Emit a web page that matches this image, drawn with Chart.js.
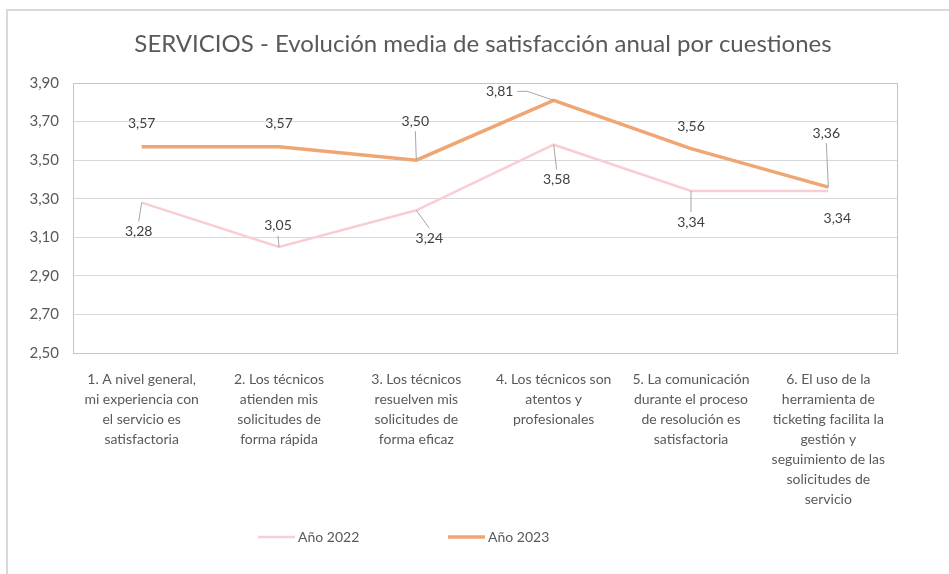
<!DOCTYPE html>
<html lang="es">
<head>
<meta charset="UTF-8">
<title>SERVICIOS - Evolución media de satisfacción anual por cuestiones</title>
<script src="https://cdn.jsdelivr.net/npm/chart.js"></script>
<style>
  html, body { margin: 0; padding: 0; background: #fff; }
  #wrap { position: relative; width: 949px; height: 574px; }
</style>
</head>
<body>
<div id="wrap"><canvas id="grafico"></canvas></div>
<script>
// datos
const preguntas = [
  ['1. A nivel general,', 'mi experiencia con', 'el servicio es', 'satisfactoria'],
  ['2. Los técnicos', 'atienden mis', 'solicitudes de', 'forma rápida'],
  ['3. Los técnicos', 'resuelven mis', 'solicitudes de', 'forma eficaz'],
  ['4. Los técnicos son', 'atentos y', 'profesionales'],
  ['5. La comunicación', 'durante el proceso', 'de resolución es', 'satisfactoria'],
  ['6. El uso de la', 'herramienta de', 'ticketing facilita la', 'gestión y', 'seguimiento de las', 'solicitudes de', 'servicio']
];
const anio2022 = [3.28, 3.05, 3.24, 3.58, 3.34, 3.34];
const anio2023 = [3.57, 3.57, 3.50, 3.81, 3.56, 3.36];
const titulo = 'SERVICIOS - Evolución media de satisfacción anual por cuestiones';

// posición de las etiquetas respecto al punto (como en Excel)
const etiq2022 = [[-3, 29, true], [-1, -21, true], [13, 28, true], [3, 35, true], [0, 31, true], [9, 27, false]];
const etiq2023 = [[0, -23, false], [0, -23, false], [-1, -39, true], [-54, -9, true], [0, -22, false], [-2, -54, true]];

const FUENTE = 'Lato, "Open Sans", sans-serif';
const GRIS = '#595959';
const fmt = v => v.toFixed(2).replace('.', ',');

const extras = {
  id: 'extras',
  beforeDraw(chart) {
    const c = chart.ctx;
    c.save();
    c.fillStyle = '#fff';
    c.fillRect(0, 0, chart.width, chart.height);
    c.strokeStyle = '#d9d9d9';
    c.lineWidth = 2;
    c.beginPath();
    c.moveTo(7, chart.height);
    c.lineTo(7, 10);
    c.lineTo(chart.width, 10);
    c.stroke();
    c.restore();
  },
  beforeDatasetsDraw(chart) {
    const a = chart.chartArea, c = chart.ctx;
    c.save();
    c.strokeStyle = '#b4c8e1';
    c.lineWidth = 1;
    c.strokeRect(Math.round(a.left) + 0.5, Math.round(a.top) + 0.5, Math.round(a.right - a.left), Math.round(a.bottom - a.top));
    c.restore();
  },
  afterDraw(chart) {
    const c = chart.ctx;
    c.save();
    // título
    c.fillStyle = GRIS;
    c.font = '24px ' + FUENTE;
    c.textAlign = 'center';
    c.textBaseline = 'middle';
    c.fillText(titulo, 483, 44);

    // etiquetas de datos
    c.font = '14px ' + FUENTE;
    const offs = [etiq2022, etiq2023];
    chart.data.datasets.forEach((ds, i) => {
      const meta = chart.getDatasetMeta(i);
      meta.data.forEach((pt, j) => {
        const [dx, dy, guia] = offs[i][j];
        const tx = pt.x + dx, ty = pt.y + dy;
        const txt = fmt(ds.data[j]);
        const w = c.measureText(txt).width;
        if (guia) {
          c.strokeStyle = '#a6a6a6';
          c.lineWidth = 1;
          c.beginPath();
          if (Math.abs(dx) > Math.abs(dy)) {
            const sx = dx < 0 ? tx + w / 2 + 4 : tx - w / 2 - 4;
            c.moveTo(sx, ty);
            c.lineTo(sx + (dx < 0 ? 10 : -10), ty);
          } else {
            c.moveTo(tx, dy < 0 ? ty + 10 : ty - 10);
          }
          c.lineTo(pt.x, pt.y);
          c.stroke();
        }
        c.fillStyle = '#404040';
        c.textAlign = 'center';
        c.textBaseline = 'middle';
        c.fillText(txt, tx, ty);
      });
    });

    // leyenda
    const items = [[258, 0], [448, 1]];
    c.font = '14px ' + FUENTE;
    c.textAlign = 'left';
    items.forEach(([x, i]) => {
      const ds = chart.data.datasets[i];
      c.strokeStyle = ds.borderColor;
      c.lineWidth = ds.borderWidth;
      c.beginPath();
      c.moveTo(x, 537);
      c.lineTo(x + 37, 537);
      c.stroke();
      c.fillStyle = GRIS;
      c.fillText(ds.label, x + 40, 537);
    });
    c.restore();
  }
};

new Chart(document.getElementById('grafico'), {
  type: 'line',
  data: {
    labels: preguntas,
    datasets: [
      { label: 'Año 2022', data: anio2022, borderColor: '#f8cdd3', borderWidth: 2.5, pointRadius: 0, tension: 0 },
      { label: 'Año 2023', data: anio2023, borderColor: '#f0a673', borderWidth: 3.5, pointRadius: 0, tension: 0 }
    ]
  },
  options: {
    responsive: true,
    maintainAspectRatio: false,
    animation: false,
    layout: { padding: { left: 13, top: 83, right: 52, bottom: 46 } },
    plugins: {
      legend: { display: false },
      title: { display: false },
      tooltip: { enabled: false }
    },
    scales: {
      x: {
        offset: true,
        afterFit(s) { s.height = 175; },
        grid: { display: false, drawTicks: false },
        border: { display: false },
        ticks: {
          autoSkip: false,
          maxRotation: 0,
          padding: 17,
          color: GRIS,
          font: { family: FUENTE, size: 14, lineHeight: 1.42 }
        }
      },
      y: {
        min: 2.5,
        max: 3.9,
        afterFit(s) { s.width = 60; },
        grid: { color: '#d9d9d9', drawTicks: false },
        border: { display: false },
        ticks: {
          stepSize: 0.2,
          padding: 14,
          color: GRIS,
          font: { family: FUENTE, size: 15 },
          callback: v => fmt(v)
        }
      }
    }
  },
  plugins: [extras]
});
</script>
</body>
</html>
